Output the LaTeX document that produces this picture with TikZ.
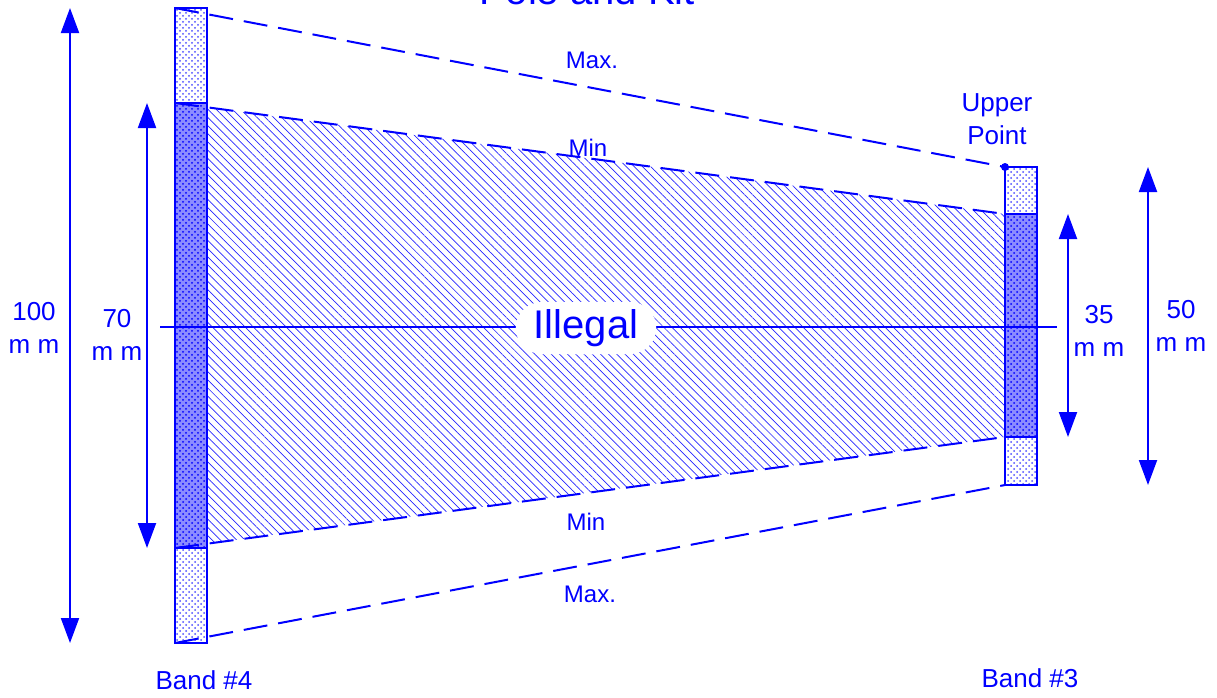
\documentclass[tikz,border=0pt]{standalone}
\usepackage{fontspec}
\setmainfont{Liberation Sans}
\usetikzlibrary{arrows.meta,patterns,patterns.meta}

\begin{document}
\begin{tikzpicture}[x=0.5pt,y=-0.5pt]
\tikzstyle{dim}=[blue,line width=1pt,{Triangle[length=12.5pt,width=9pt]}-{Triangle[length=12.5pt,width=9pt]}]
\tikzstyle{lim}=[blue,line width=1pt,dash pattern=on 12pt off 5.5pt]
\tikzstyle{light}=[draw=blue,line width=1pt,pattern=crosshatch dots,pattern color=blue!70]
\tikzstyle{dark}=[draw=blue,line width=1pt,fill=blue!45,postaction={pattern=crosshatch dots,pattern color=blue}]
\tikzstyle{lbl}=[text=blue,align=center,inner sep=0pt,font=\fontsize{13}{16.5}\selectfont]
\tikzstyle{small}=[text=blue,inner sep=0pt,font=\fontsize{12}{14}\selectfont]
\useasboundingbox (0,0) rectangle (1217,697);
% band corners
\coordinate (b4t) at (175,8);
\coordinate (b4u) at (175,103);
\coordinate (b4l) at (175,548);
\coordinate (b4b) at (175,643);
\coordinate (b3t) at (1005,167);
\coordinate (b3u) at (1005,214);
\coordinate (b3l) at (1005,437);
\coordinate (b3b) at (1005,485);
% illegal zone
\fill[pattern={Lines[angle=-45,distance=2.9pt,line width=0.35pt]},pattern color=blue!85] (b4u) -- (b3u) -- (b3l) -- (b4l) -- cycle;
% bands
\draw[light] (175,8) rectangle (207,103);
\draw[dark] (175,103) rectangle (207,548);
\draw[light] (175,548) rectangle (207,643);
\draw[light] (1005,167) rectangle (1037,214);
\draw[dark] (1005,214) rectangle (1037,437);
\draw[light] (1005,437) rectangle (1037,485);
% centre line
\coordinate (c1) at (160,327);
\coordinate (c2) at (1057,327);
\draw[blue,line width=1pt] (c1) -- (c2);
\node[fill=white,rounded corners=13pt,text=blue,inner xsep=9pt,minimum height=26pt,font=\fontsize{20}{22}\selectfont] (ill) at (586,328) {Illegal};
% limits
\draw[lim] (b4t) -- (b3t);
\draw[lim] (b4u) -- (b3u);
\draw[lim] (b4l) -- (b3l);
\draw[lim] (b4b) -- (b3b);
\fill[blue] (b3t) circle (2pt);
\node[small] (max1) at (592,60) {Max.};
\node[small] (min1) at (588,148) {Min};
\node[small] (min2) at (586,522) {Min};
\node[small] (max2) at (590,594) {Max.};
\node[lbl] (up) at (997,119) {Upper\\Point};
% dimensions
\coordinate (d1t) at (70,8);
\coordinate (d1b) at (70,643);
\coordinate (d2t) at (147,103);
\coordinate (d2b) at (147,548);
\coordinate (d3t) at (1068,214);
\coordinate (d3b) at (1068,437);
\coordinate (d4t) at (1148,167);
\coordinate (d4b) at (1148,485);
\draw[dim] (d1t) -- (d1b);
\draw[dim] (d2t) -- (d2b);
\draw[dim] (d3t) -- (d3b);
\draw[dim] (d4t) -- (d4b);
\node[lbl] (l100) at (34,328) {100\\m m};
\node[lbl] (l70) at (117,335) {70\\m m};
\node[lbl] (l35) at (1099,331) {35\\m m};
\node[lbl] (l50) at (1181,326) {50\\m m};
\node[lbl] (band4) at (204,680) {Band \#4};
\node[lbl] (band3) at (1030,678) {Band \#3};
\node[text=blue,anchor=base,inner sep=0pt,font=\fontsize{20}{22}\selectfont] (title) at (587,4) {Pole and Kit};
\end{tikzpicture}
\end{document}
